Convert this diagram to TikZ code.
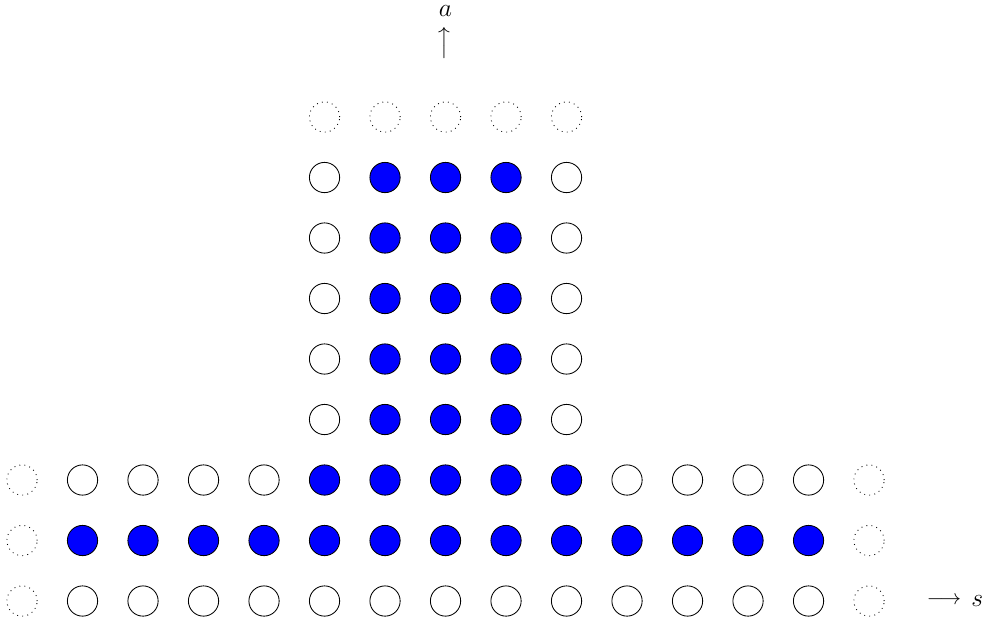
\documentclass[tikz,border=0pt]{standalone}
\begin{document}
\begin{tikzpicture}[
  dot/.style={circle, draw=black, minimum size=0.5cm, inner sep=0pt},
  occ/.style={dot, fill=blue},
  emp/.style={dot, fill=white},
  ghost/.style={dot, dotted},
  lbl/.style={inner sep=0pt, font=\large}
]
\useasboundingbox (-0.364,-0.446) rectangle (15.95,9.934);
% rows 0, 1 and 2 with outer ghosts
\foreach \j in {0,1,2}{
  \node[ghost] (c-0-\j) at (0,\j) {};
  \node[ghost] (c-14-\j) at (14,\j) {};
}
\foreach \i in {1,...,13}{
  \node[emp] (c-\i-0) at (\i,0) {};
  \node[occ] (c-\i-1) at (\i,1) {};
}
\foreach \i in {1,2,3,4,10,11,12,13}{
  \node[emp] (c-\i-2) at (\i,2) {};
}
\foreach \i in {5,...,9}{
  \node[occ] (c-\i-2) at (\i,2) {};
  \node[ghost] (c-\i-8) at (\i,8) {};
}
\foreach \j in {3,...,7}{
  \node[emp] (c-5-\j) at (5,\j) {};
  \node[occ] (c-6-\j) at (6,\j) {};
  \node[occ] (c-7-\j) at (7,\j) {};
  \node[occ] (c-8-\j) at (8,\j) {};
  \node[emp] (c-9-\j) at (9,\j) {};
}
\node[rotate=90, inner sep=0pt] (uparr) at (7,9.22) {$\longrightarrow$};
\node[lbl] (alabel) at (7,9.75) {$a$};
\node[inner sep=0pt] (rarr) at (15.24,0) {$\longrightarrow$};
\node[lbl] (slabel) at (15.79,0) {$s$};
\end{tikzpicture}
\end{document}
